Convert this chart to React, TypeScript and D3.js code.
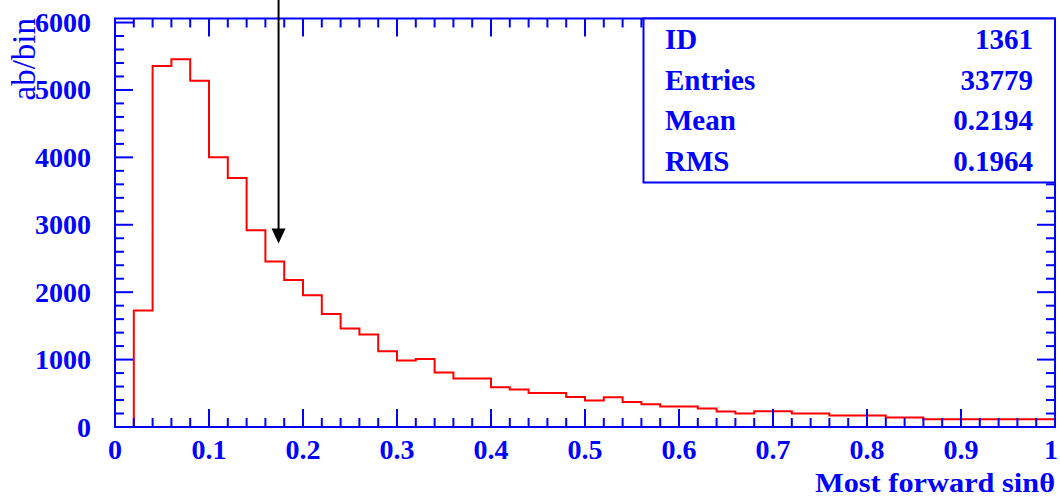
import React from "react";
import * as d3 from "d3";

const binStart = 0;
const binWidth = 0.02;
const binValues = [
  0, 1730, 5355, 5454, 5138, 4000, 3694, 2920, 2456, 2179,
  1953, 1676, 1460, 1371, 1124, 987, 1010, 808, 719, 719,
  590, 555, 505, 505, 446, 392, 441, 372, 337, 303,
  303, 273, 230, 199, 233, 233, 199, 199, 169, 169,
  169, 140, 140, 114, 114, 114, 114, 114, 114, 114,
];
const xTicks = [0, 0.1, 0.2, 0.3, 0.4, 0.5, 0.6, 0.7, 0.8, 0.9, 1];
const xTickLabels = ["0", "0.1", "0.2", "0.3", "0.4", "0.5", "0.6", "0.7", "0.8", "0.9", "1"];
const yTicks = [0, 1000, 2000, 3000, 4000, 5000, 6000];
const statLabels = ["ID", "Entries", "Mean", "RMS"];
const statValues = ["1361", "33779", "0.2194", "0.1964"];
const arrowX = 0.174;
const xTitle = "Most forward sinθ";
const yTitle = "ab/bin";

const BLUE = "#0000ff";
const RED = "#ff0000";
const FONT = "'Liberation Serif', 'Times New Roman', serif";

export default function App() {
  const W = 1060, H = 498;
  const left = 115, right = 1055, top = 18.5, bottom = 427;
  const x = d3.scaleLinear().domain([0, 1]).range([left, right]);
  const y = d3.scaleLinear().domain([0, 6060]).range([bottom, top]);

  const pts: [number, number][] = [];
  binValues.forEach((v, i) => {
    const x0 = binStart + i * binWidth;
    pts.push([x(x0), y(v)]);
    pts.push([x(x0 + binWidth), y(v)]);
  });
  const path = d3.line()([[x(0), y(0)], ...pts, [x(1), y(0)]]);

  const xMinor = d3.range(0, 1.0001, 0.02);
  const yMinor = d3.range(0, 6001, 200);
  const MAJ = 18, MIN = 9;

  const statTop = top, statLeft = 643.5, statBottom = 182.5;
  const statBaselines = [49, 90, 130, 170.5];

  return (
    <svg width={W} height={H} style={{ position: "absolute", left: 0, top: 0 }}>
      <rect width={W} height={H} fill="#fff" />
      <path d={path ?? ""} fill="none" stroke={RED} strokeWidth={2} />
      <rect x={left} y={top} width={right - left} height={bottom - top} fill="none" stroke={BLUE} strokeWidth={2} />
      {xMinor.map((t, i) => {
        const major = i % 5 === 0;
        const len = major ? MAJ : MIN;
        return (
          <g key={"xt" + i} stroke={BLUE} strokeWidth={2}>
            <line x1={x(t)} x2={x(t)} y1={bottom} y2={bottom - len} />
            <line x1={x(t)} x2={x(t)} y1={top} y2={top + len} />
          </g>
        );
      })}
      {yMinor.map((t, i) => {
        const major = i % 5 === 0;
        const len = major ? MAJ : MIN;
        return (
          <g key={"yt" + i} stroke={BLUE} strokeWidth={2}>
            <line x1={left} x2={left + len} y1={y(t)} y2={y(t)} />
            <line x1={right} x2={right - len} y1={y(t)} y2={y(t)} />
          </g>
        );
      })}
      <rect x={statLeft} y={statTop} width={right - statLeft} height={statBottom - statTop} fill="#fff" stroke={BLUE} strokeWidth={2} />
      {statLabels.map((s, i) => (
        <text key={"sl" + i} x={665} y={statBaselines[i]} fill={BLUE} fontFamily={FONT} fontWeight="bold" fontSize={29}>{s}</text>
      ))}
      {statValues.map((s, i) => (
        <text key={"sv" + i} x={1033} y={statBaselines[i]} fill={BLUE} fontFamily={FONT} fontWeight="bold" fontSize={29} textAnchor="end">{s}</text>
      ))}
      {xTicks.map((t, i) => (
        <text key={"xl" + i} x={Math.min(x(t), 1051)} y={459} fill={BLUE} fontFamily={FONT} fontWeight="bold" fontSize={28} textAnchor="middle">{xTickLabels[i]}</text>
      ))}
      {yTicks.map((t, i) => (
        <text key={"yl" + i} x={91} y={y(t) + 9.5} fill={BLUE} fontFamily={FONT} fontWeight="bold" fontSize={28} textAnchor="end">{t}</text>
      ))}
      <text x={815} y={491.5} fill={BLUE} fontFamily={FONT} fontWeight="bold" fontSize={28} textLength={240} lengthAdjust="spacingAndGlyphs">{xTitle}</text>
      <text transform="translate(35,18) rotate(-90)" fill={BLUE} fontFamily={FONT} fontSize={33} textAnchor="end">{yTitle}</text>
      <line x1={x(arrowX)} x2={x(arrowX)} y1={0} y2={230} stroke="#000" strokeWidth={2} />
      <path d={`M${x(arrowX) - 7},228.5 L${x(arrowX) + 7},228.5 L${x(arrowX)},243.5 Z`} fill="#000" />
    </svg>
  );
}
